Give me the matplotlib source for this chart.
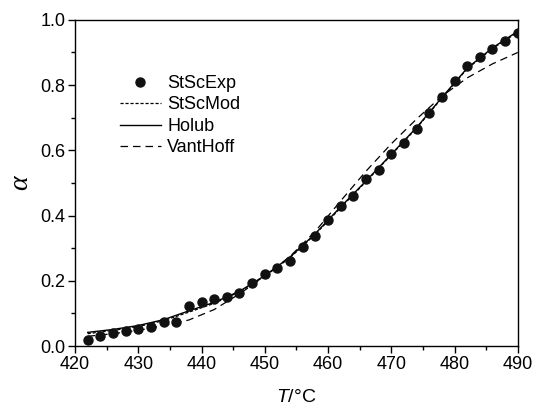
import matplotlib
matplotlib.use("Agg")
import matplotlib.pyplot as plt
from matplotlib.ticker import MultipleLocator, FormatStrFormatter

plt.rcParams['font.family'] = ['Liberation Sans', 'DejaVu Sans']
plt.rcParams['mathtext.fontset'] = 'custom'
plt.rcParams['mathtext.it'] = 'Liberation Sans:italic'
plt.rcParams['mathtext.rm'] = 'Liberation Sans'

# Experimental points
T_exp = [422, 424, 426, 428, 430, 432, 434, 436, 438, 440, 442, 444, 446, 448,
         450, 452, 454, 456, 458, 460, 462, 464, 466, 468, 470, 472, 474, 476,
         478, 480, 482, 484, 486, 488, 490]
a_exp = [0.018, 0.032, 0.039, 0.046, 0.052, 0.059, 0.075, 0.073, 0.123, 0.136,
         0.144, 0.151, 0.164, 0.192, 0.220, 0.240, 0.262, 0.305, 0.338, 0.387,
         0.429, 0.459, 0.512, 0.540, 0.589, 0.624, 0.666, 0.714, 0.763, 0.811,
         0.860, 0.887, 0.910, 0.936, 0.959]

# Model curves
T_mod = [422, 426, 430, 434, 438, 442, 446, 450, 454, 458, 462, 466, 470, 474,
         478, 482, 486, 490]
a_stsc = [0.038, 0.048, 0.060, 0.078, 0.104, 0.131, 0.166, 0.214, 0.271, 0.343,
          0.424, 0.504, 0.586, 0.668, 0.760, 0.850, 0.912, 0.962]
a_holub = [0.042, 0.051, 0.063, 0.081, 0.108, 0.134, 0.168, 0.216, 0.273, 0.345,
           0.427, 0.506, 0.588, 0.670, 0.762, 0.852, 0.914, 0.965]
a_vant = [0.030, 0.038, 0.048, 0.063, 0.080, 0.112, 0.160, 0.214, 0.275, 0.352,
          0.445, 0.536, 0.620, 0.696, 0.766, 0.822, 0.865, 0.900]

fig = plt.figure(figsize=(5.36, 4.13), dpi=100)
ax = fig.add_axes([0.14, 0.162, 0.826, 0.790])

ax.plot(T_exp, a_exp, 'o', color='#111111', markersize=6.5, label='StScExp', zorder=3)
ax.plot(T_mod, a_stsc, color='black', lw=0.9, linestyle=(0, (2.5, 1.5)), label='StScMod')
ax.plot(T_mod, a_holub, color='black', lw=1.0, linestyle='-', label='Holub')
ax.plot(T_mod, a_vant, color='black', lw=0.9, linestyle=(0, (6, 4)), label='VantHoff')

ax.set_xlim(420, 490)
ax.set_ylim(0.0, 1.0)
ax.xaxis.set_major_locator(MultipleLocator(10))
ax.xaxis.set_minor_locator(MultipleLocator(5))
ax.yaxis.set_major_locator(MultipleLocator(0.2))
ax.yaxis.set_minor_locator(MultipleLocator(0.1))
ax.yaxis.set_major_formatter(FormatStrFormatter('%.1f'))
ax.tick_params(which='major', direction='out', length=5, width=1, labelsize=13, pad=2)
ax.tick_params(which='minor', direction='out', length=3, width=1)
for s in ax.spines.values():
    s.set_linewidth(1.0)

ax.set_xlabel(r'$\mathit{T}$/°C', fontsize=14, labelpad=12)
ax.set_ylabel('α', fontsize=20, family='Liberation Serif', style='italic', labelpad=5)

leg = ax.legend(loc='upper left', bbox_to_anchor=(0.072, 0.87), frameon=False,
                fontsize=13, handlelength=2.3, handletextpad=0.35,
                labelspacing=0.25, borderpad=0.2)

fig.savefig('out.png', dpi=100)
